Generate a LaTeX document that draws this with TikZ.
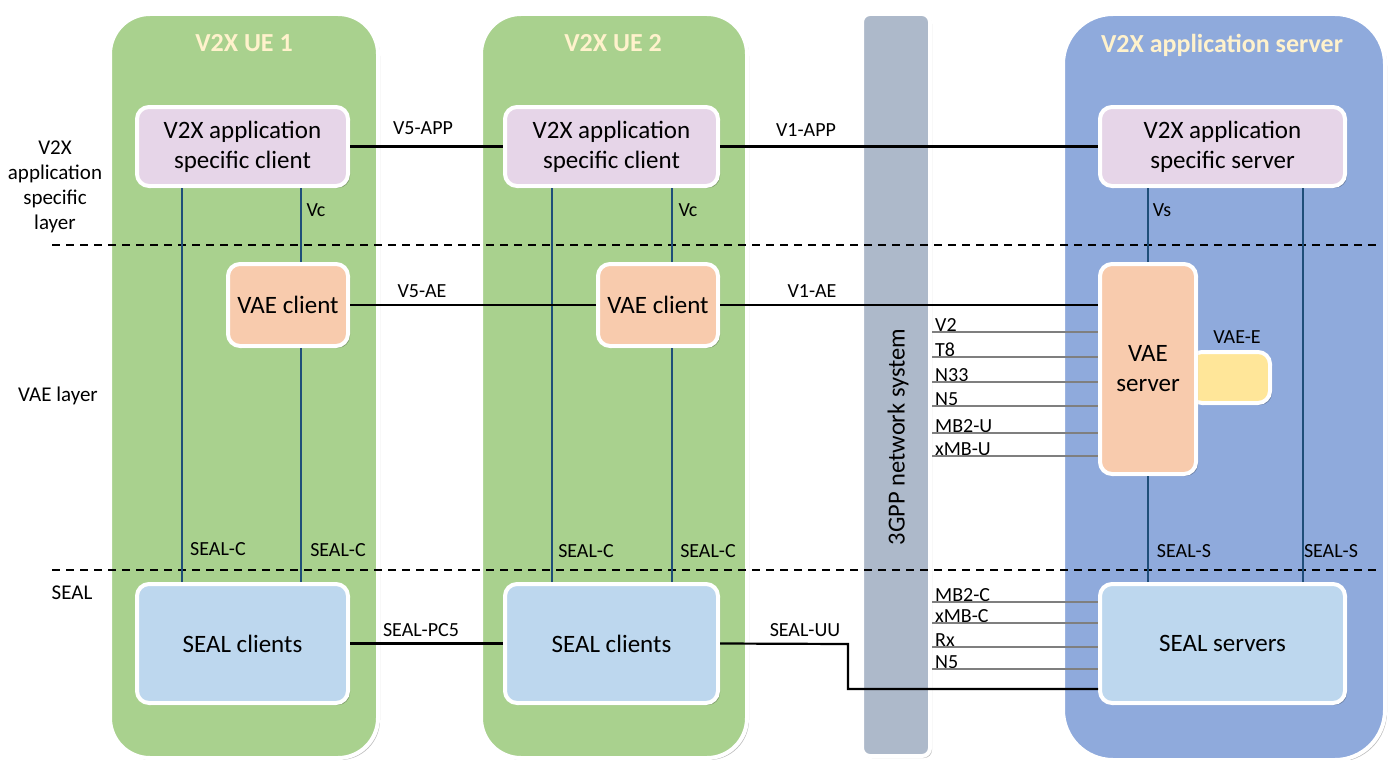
\documentclass[tikz,border=0pt]{standalone}
\usepackage{fontspec}
\setmainfont{Carlito}
\usetikzlibrary{shadows}
\definecolor{uegreen}{HTML}{A9D18E}
\definecolor{srvblue}{HTML}{8FAADC}
\definecolor{titlecol}{HTML}{FFF2CC}
\definecolor{barcol}{HTML}{ADB9CA}
\definecolor{appcol}{HTML}{E6D5E8}
\definecolor{vaecol}{HTML}{F8CBAD}
\definecolor{sealcol}{HTML}{BDD7EE}
\definecolor{yelcol}{HTML}{FFE699}
\definecolor{vline}{HTML}{1F4E79}
\definecolor{gline}{HTML}{7F7F7F}
\tikzset{
  shd/.style={drop shadow={shadow xshift=2pt,shadow yshift=-2pt,opacity=0.25,fill=black}},
  panel/.style={draw=white,line width=4pt,rounded corners=40pt,shd,inner sep=0pt},
  box/.style={draw=white,line width=4pt,rounded corners=12pt,shd,align=center,
    font=\fontsize{25}{30}\selectfont,inner sep=0pt},
  appbox/.style={box,font=\fontsize{25}{30}\selectfont},
  title/.style={text=titlecol,font=\fontsize{26}{30}\selectfont\bfseries},
  lbl/.style={font=\fontsize{20}{22}\selectfont,inner sep=1pt},
  conn/.style={black,line width=2.2pt},
  vln/.style={vline,line width=1.2pt},
  gln/.style={gline,line width=2pt},
  layer/.style={font=\fontsize{21}{25}\selectfont,align=center},
}
\begin{document}
\begin{tikzpicture}[x=1pt,y=-1pt]
\useasboundingbox (0,0) rectangle (1389,760);
\fill[white] (0,0) rectangle (1389,760);
% panels
\node[panel,fill=uegreen,minimum width=268pt,minimum height=744pt] (ue1) at (244,386) {};
\node[panel,fill=uegreen,minimum width=266pt,minimum height=744pt] (ue2) at (614,386) {};
\node[panel,fill=barcol,rounded corners=8pt,minimum width=68pt,minimum height=742pt] (bar) at (896,385) {};
\node[panel,fill=srvblue,rounded corners=50pt,minimum width=322pt,minimum height=746pt] (srv) at (1224,387) {};
\node[title] (t1) at (244,43) {V2X UE 1};
\node[title] (t2) at (613,43) {V2X UE 2};
\node[title] (t3) at (1222,45) {V2X application server};
\node[rotate=90,font=\fontsize{24.5}{28}\selectfont] (bart) at (898,437) {3GPP network system};
% layer separators
\coordinate (d1a) at (52,245); \coordinate (d1b) at (1380,245);
\coordinate (d2a) at (52,570); \coordinate (d2b) at (1380,570);
\draw[dashed,line width=1.6pt,dash pattern=on 8pt off 6pt] (d1a) -- (d1b);
\draw[dashed,line width=1.6pt,dash pattern=on 8pt off 6pt] (d2a) -- (d2b);
\node[layer] (L1) at (55,187) {V2X\\application\\specific\\layer};
\node[layer] (L2) at (58,396) {VAE layer};
\node[layer] (L3) at (72,593) {SEAL};
% yellow box (behind VAE server)
\node[box,fill=yelcol,minimum width=80pt,minimum height=51pt] (vaee) at (1230,377.5) {};
\node[lbl] (vaeel) at (1237,337) {VAE-E};
% boxes
\node[appbox,fill=appcol,minimum width=211pt,minimum height=79pt] (ac1) at (242.5,146.5) {V2X application\\specific client};
\node[appbox,fill=appcol,minimum width=213pt,minimum height=79pt] (ac2) at (611.5,146.5) {V2X application\\specific client};
\node[appbox,fill=appcol,minimum width=245pt,minimum height=79pt] (as) at (1222.5,146.5) {V2X application\\specific server};
\node[box,fill=vaecol,minimum width=120pt,minimum height=82pt] (vc1) at (288,305) {VAE client};
\node[box,fill=vaecol,minimum width=120pt,minimum height=82pt] (vc2) at (658,305) {VAE client};
\node[box,fill=vaecol,minimum width=96pt,minimum height=210pt] (vs) at (1148,369) {VAE\\server};
\node[box,fill=sealcol,minimum width=211pt,minimum height=119pt] (sc1) at (242.5,643.5) {SEAL clients};
\node[box,fill=sealcol,minimum width=213pt,minimum height=119pt] (sc2) at (611.5,643.5) {SEAL clients};
\node[box,fill=sealcol,minimum width=245pt,minimum height=119pt] (ss) at (1222.5,643.5) {SEAL servers};
% vertical reference x positions
\coordinate (xa) at (182,0); \coordinate (xb) at (301,0);
\coordinate (xc) at (552,0); \coordinate (xd) at (672,0);
\coordinate (xe) at (1303,0);
% vertical lines
\draw[vln] (ac1.south -| xa) -- (sc1.north -| xa);
\draw[vln] (ac1.south -| xb) -- (vc1.north -| xb);
\draw[vln] (vc1.south -| xb) -- (sc1.north -| xb);
\draw[vln] (ac2.south -| xc) -- (sc2.north -| xc);
\draw[vln] (ac2.south -| xd) -- (vc2.north -| xd);
\draw[vln] (vc2.south -| xd) -- (sc2.north -| xd);
\draw[vln] (as.south -| vs.north) -- (vs.north);
\draw[vln] (vs.south) -- (ss.north -| vs.south);
\draw[vln] (as.south -| xe) -- (ss.north -| xe);
\node[lbl] (vc1l) at (316,210) {Vc};
\node[lbl] (vc2l) at (688,210) {Vc};
\node[lbl] (vsl) at (1162,210) {Vs};
\node[lbl] (sc1a) at (218,549) {SEAL-C};
\node[lbl] (sc1b) at (338,550) {SEAL-C};
\node[lbl] (sc2a) at (586,551) {SEAL-C};
\node[lbl] (sc2b) at (708,551) {SEAL-C};
\node[lbl] (ssa) at (1184,551) {SEAL-S};
\node[lbl] (ssb) at (1331,551) {SEAL-S};
% horizontal connectors
\draw[conn] (ac1.east) -- (ac2.west);
\draw[conn] (ac2.east) -- (as.west);
\draw[conn] (vc1.east) -- (vc2.west);
\draw[conn] (vc2.east) -- (vs.west |- vc2.east);
\draw[conn] (sc1.east) -- (sc2.west);
\coordinate (uu1) at (848,644);
\coordinate (uu2) at (848,689);
\draw[conn] (sc2.east) -- (uu1) -- (uu2) -- (ss.west |- uu2);
\node[lbl] (l5app) at (423,128) {V5-APP};
\node[lbl] (l1app) at (806,130) {V1-APP};
\node[lbl] (l5ae) at (422,291) {V5-AE};
\node[lbl] (l1ae) at (812,291) {V1-AE};
\node[lbl] (lpc5) at (421,630) {SEAL-PC5};
\node[lbl] (luu) at (805,630) {SEAL-UU};
% gray interfaces (VAE server)
\foreach \t/\y/\n in {V2/332/g1,T8/357/g2,N33/382/g3,N5/406/g4,MB2-U/433/g5,xMB-U/456/g6}{
  \node[lbl,anchor=south west,inner sep=0pt] (\n) at (935,\y) {\t};
  \draw[gln] (bar.east |- \n.south) -- (vs.west |- \n.south);
}
% gray interfaces (SEAL servers)
\foreach \t/\y/\n in {MB2-C/602/h1,xMB-C/623/h2,Rx/647/h3,N5/669/h4}{
  \node[lbl,anchor=south west,inner sep=0pt] (\n) at (935,\y) {\t};
  \draw[gln] (bar.east |- \n.south) -- (ss.west |- \n.south);
}
\end{tikzpicture}
\end{document}
